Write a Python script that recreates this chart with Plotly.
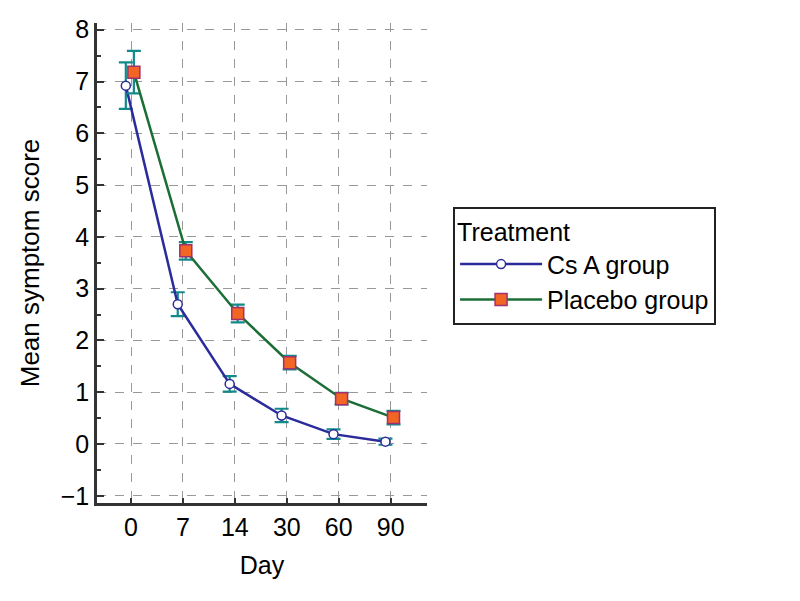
import plotly.graph_objects as go

days = ["0", "7", "14", "30", "60", "90"]
csa_mean = [6.92, 2.70, 1.16, 0.55, 0.19, 0.045]
csa_err = [0.45, 0.23, 0.15, 0.13, 0.09, 0.06]
placebo_mean = [7.18, 3.73, 2.52, 1.57, 0.875, 0.51]
placebo_err = [0.41, 0.17, 0.17, 0.13, 0.11, 0.13]

idx = list(range(len(days)))
csa_offset = -0.10
placebo_offset = 0.055

fig = go.Figure()
fig.add_trace(go.Scatter(
    x=[i + csa_offset for i in idx], y=csa_mean, name="Cs A group",
    mode="lines+markers",
    line=dict(color="#2b2b9b", width=2.5),
    marker=dict(symbol="circle", size=9, color="white", line=dict(color="#2b2b9b", width=1.5)),
    error_y=dict(type="data", array=csa_err, visible=True, color="#138a8a", thickness=2.2, width=7),
))
fig.add_trace(go.Scatter(
    x=[i + placebo_offset for i in idx], y=placebo_mean, name="Placebo group",
    mode="lines+markers",
    line=dict(color="#1b6e35", width=2.5),
    marker=dict(symbol="square", size=12, color="#f26522", line=dict(color="#a0306e", width=1.5)),
    error_y=dict(type="data", array=placebo_err, visible=True, color="#138a8a", thickness=2.2, width=7),
))

fig.update_layout(
    width=800, height=601,
    paper_bgcolor="white", plot_bgcolor="white",
    margin=dict(l=89, r=381, t=15, b=106),
    font=dict(family="Liberation Sans, Arial", size=25, color="black"),
    showlegend=True,
    legend=dict(
        title=dict(text="Treatment", font=dict(size=25)),
        font=dict(size=25),
        x=1.079, y=0.617, xanchor="left", yanchor="top",
        bordercolor="#222", borderwidth=2, bgcolor="white",
        itemwidth=82, tracegroupgap=0,
    ),
)
fig.update_xaxes(
    range=[-0.655, 5.70],
    tickmode="array", tickvals=idx, ticktext=days,
    ticks="inside", ticklen=5, tickwidth=2, tickcolor="#333",
    showline=True, linecolor="#333", linewidth=2.5,
    showgrid=True, gridcolor="#999", griddash="dash", gridwidth=1,
    zeroline=False, automargin=False,
    title=dict(text="Day", font=dict(size=25), standoff=17),
    tickfont=dict(size=25),
)
fig.update_yaxes(
    range=[-1.14, 8.13],
    tickmode="linear", tick0=0, dtick=1,
    ticks="inside", ticklen=7, tickwidth=2, tickcolor="#333",
    minor=dict(ticks="inside", dtick=0.5, ticklen=4, tickwidth=1.5, tickcolor="#333", showgrid=False),
    showline=True, linecolor="#333", linewidth=2.5,
    showgrid=True, gridcolor="#999", griddash="dash", gridwidth=1,
    zeroline=False, automargin=False,
    title=dict(text="Mean symptom score", font=dict(size=26), standoff=14),
    tickfont=dict(size=25),
)

fig.write_html("out.html")
